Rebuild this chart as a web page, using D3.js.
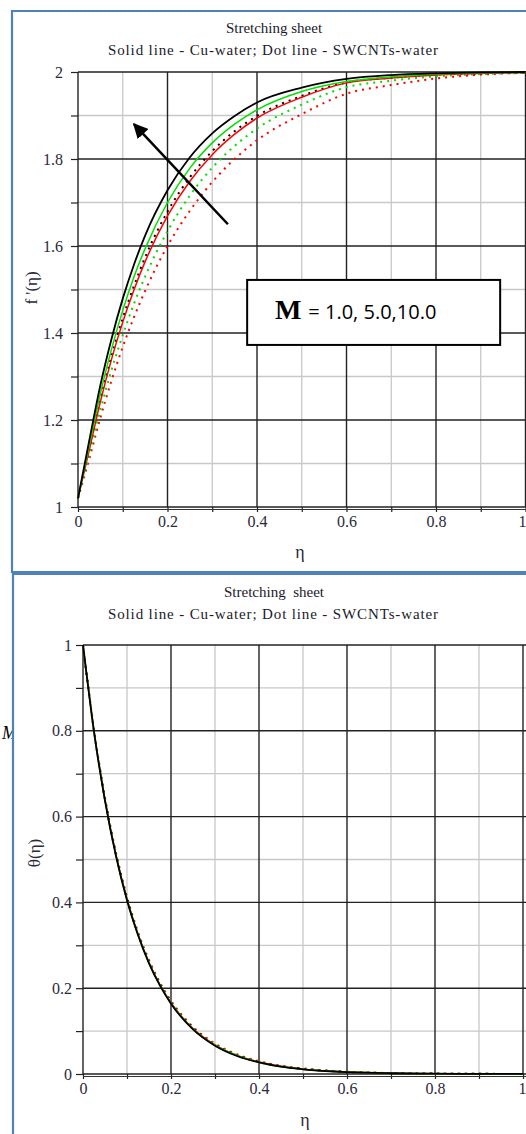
<!DOCTYPE html>
<html>
<head>
<meta charset="utf-8">
<script src="https://cdn.jsdelivr.net/npm/d3@7"></script>
<style>
  body { margin: 0; background: #fff; }
  svg { display: block; }
</style>
</head>
<body>
<script>
// top panel: velocity f'(eta)
const etaTop = [0, 0.025, 0.05, 0.075, 0.1, 0.125, 0.15, 0.2, 0.25, 0.3, 0.35, 0.4, 0.5, 0.6, 0.7, 0.8, 0.9, 1.0];
const fCuBlack  = [1.02, 1.152, 1.280, 1.387, 1.479, 1.557, 1.624, 1.728, 1.804, 1.859, 1.899, 1.930, 1.964, 1.984, 1.993, 1.997, 1.999, 2.0];
const fCuGreen  = [1.02, 1.141, 1.261, 1.363, 1.452, 1.529, 1.594, 1.700, 1.779, 1.837, 1.880, 1.913, 1.955, 1.978, 1.989, 1.995, 1.998, 1.999];
const fCuRed    = [1.02, 1.130, 1.242, 1.340, 1.425, 1.499, 1.564, 1.669, 1.749, 1.810, 1.857, 1.894, 1.942, 1.975, 1.986, 1.993, 1.997, 1.999];
const fSwBlack  = [1.02, 1.134, 1.248, 1.347, 1.434, 1.508, 1.574, 1.679, 1.758, 1.818, 1.864, 1.899, 1.945, 1.976, 1.987, 1.994, 1.997, 1.999];
const fSwGreen  = [1.02, 1.120, 1.223, 1.315, 1.395, 1.467, 1.530, 1.634, 1.716, 1.780, 1.830, 1.870, 1.925, 1.965, 1.980, 1.990, 1.995, 1.998];
const fSwRed    = [1.02, 1.110, 1.205, 1.291, 1.368, 1.436, 1.497, 1.600, 1.681, 1.747, 1.800, 1.843, 1.903, 1.950, 1.970, 1.985, 1.994, 1.998];

// bottom panel: temperature theta(eta)
const etaBottom = [0, 0.025, 0.05, 0.075, 0.1, 0.125, 0.15, 0.175, 0.2, 0.25, 0.3, 0.35, 0.4, 0.45, 0.5, 0.6, 0.7, 0.8, 0.9, 1.0];
const tCuBlack = [1, 0.798, 0.637, 0.508, 0.405, 0.324, 0.258, 0.206, 0.164, 0.104, 0.066, 0.042, 0.027, 0.017, 0.011, 0.0045, 0.0018, 0.0008, 0.0003, 0.0001];
const tCuGreen = [1, 0.799, 0.638, 0.509, 0.406, 0.325, 0.259, 0.207, 0.165, 0.105, 0.067, 0.043, 0.027, 0.017, 0.011, 0.0046, 0.0019, 0.0008, 0.0003, 0.0001];
const tCuRed   = [1, 0.800, 0.639, 0.510, 0.408, 0.326, 0.260, 0.208, 0.166, 0.106, 0.068, 0.043, 0.028, 0.018, 0.011, 0.0047, 0.0019, 0.0008, 0.0003, 0.0001];
const tSwBlack = [1, 0.800, 0.640, 0.511, 0.409, 0.327, 0.261, 0.209, 0.167, 0.107, 0.068, 0.044, 0.028, 0.018, 0.012, 0.0048, 0.0020, 0.0009, 0.0004, 0.0001];
const tSwGreen = [1, 0.801, 0.641, 0.512, 0.410, 0.328, 0.262, 0.210, 0.168, 0.108, 0.069, 0.044, 0.029, 0.018, 0.012, 0.0049, 0.0020, 0.0009, 0.0004, 0.0002];
const tSwRed   = [1, 0.803, 0.644, 0.516, 0.413, 0.331, 0.266, 0.213, 0.171, 0.110, 0.071, 0.046, 0.030, 0.019, 0.013, 0.0052, 0.0022, 0.0010, 0.0004, 0.0002];

const xTicks = [0, 0.2, 0.4, 0.6, 0.8, 1];
const yTicksTop = [1, 1.2, 1.4, 1.6, 1.8, 2];
const yTicksBottom = [0, 0.2, 0.4, 0.6, 0.8, 1];
const titleLine1 = 'Stretching sheet';
const titleLine2 = 'Solid line - Cu-water; Dot line - SWCNTs-water';

const width = 526, height = 1134;
const serif = 'Liberation Serif, Times New Roman, serif';
const tickColor = '#2a2a3a';

const svg = d3.select('body').append('svg')
  .attr('width', width)
  .attr('height', height);

const defs = svg.append('defs');
defs.append('marker')
  .attr('id', 'head')
  .attr('viewBox', '0 0 10 10')
  .attr('refX', 9).attr('refY', 5)
  .attr('markerWidth', 6).attr('markerHeight', 6)
  .attr('markerUnits', 'strokeWidth')
  .attr('orient', 'auto')
  .append('path')
  .attr('d', 'M0,0 L10,5 L0,10 Z')
  .attr('fill', '#000');
defs.append('clipPath').attr('id', 'leftcut')
  .append('rect').attr('x', 0).attr('y', 700).attr('width', 12).attr('height', 60);

function fmt(v) { return v === 0 || v === 1 || v === 2 ? String(v) : d3.format('.1f')(v); }

function drawPanel(cfg) {
  const x = d3.scaleLinear().domain([0, 1]).range([cfg.left, cfg.right]);
  const y = d3.scaleLinear().domain(cfg.yDomain).range([cfg.bottom, cfg.top]);
  const g = svg.append('g');

  const minorX = d3.range(1, 10, 2).map(d => d / 10);
  const [y0, y1] = cfg.yDomain;
  const minorY = d3.range(1, 10, 2).map(d => y0 + (y1 - y0) * d / 10);

  // minor grid
  g.append('g').selectAll('line').data(minorX).join('line')
    .attr('x1', d => x(d)).attr('x2', d => x(d))
    .attr('y1', cfg.top).attr('y2', cfg.bottom)
    .attr('stroke', '#c8c8c8').attr('stroke-width', 1.3);
  g.append('g').selectAll('line').data(minorY).join('line')
    .attr('x1', cfg.left).attr('x2', cfg.right + 4)
    .attr('y1', d => y(d)).attr('y2', d => y(d))
    .attr('stroke', '#c8c8c8').attr('stroke-width', 1.3);

  // major grid
  g.append('g').selectAll('line').data(xTicks.slice(1)).join('line')
    .attr('x1', d => x(d)).attr('x2', d => x(d))
    .attr('y1', cfg.top).attr('y2', cfg.bottom)
    .attr('stroke', '#222').attr('stroke-width', 1.4);
  g.append('g').selectAll('line').data(cfg.yTicks.slice(1)).join('line')
    .attr('x1', cfg.left).attr('x2', cfg.right + 4)
    .attr('y1', d => y(d)).attr('y2', d => y(d))
    .attr('stroke', '#222').attr('stroke-width', 1.4);

  // axes
  const xAxis = d3.axisBottom(x).tickValues(d3.range(0, 11).map(d => d / 10))
    .tickSize(5).tickPadding(4)
    .tickFormat(d => xTicks.some(t => Math.abs(t - d) < 1e-9) ? fmt(d) : '');
  const xa = g.append('g').attr('transform', `translate(0,${cfg.bottom})`).call(xAxis);
  xa.select('.domain').attr('stroke', '#222').attr('stroke-width', 1.4).attr('d', `M${cfg.left},0H${cfg.right + 4}`);
  xa.selectAll('.tick line').attr('stroke', '#222').attr('stroke-width', 1.2);
  xa.selectAll('.tick text').attr('font-family', serif).attr('font-size', 16)
    .attr('fill', tickColor)
    .attr('text-anchor', d => d === 1 ? 'end' : 'middle')
    .attr('dx', d => d === 1 ? (width - x(1)) : 0);
  g.append('line')
    .attr('x1', cfg.left).attr('x2', cfg.right + 4)
    .attr('y1', cfg.bottom + 2.5).attr('y2', cfg.bottom + 2.5)
    .attr('stroke', '#333').attr('stroke-width', 1);

  const yAxis = d3.axisLeft(y).tickValues(d3.range(0, 11).map(d => y0 + (y1 - y0) * d / 10))
    .tickSize(7).tickPadding(cfg.yPad)
    .tickFormat(d => cfg.yTicks.some(t => Math.abs(t - d) < 1e-9) ? fmt(d) : '');
  const ya = g.append('g').attr('transform', `translate(${cfg.left},0)`).call(yAxis);
  ya.select('.domain').attr('stroke', '#222').attr('stroke-width', 1.4).attr('d', `M0,${cfg.bottom}V${cfg.top}`);
  ya.selectAll('.tick line').attr('stroke', '#222').attr('stroke-width', 1.2);
  ya.selectAll('.tick text').attr('font-family', serif).attr('font-size', 16).attr('fill', tickColor);

  // curves
  const line = d3.line()
    .x(d => x(d[0])).y(d => y(d[1]))
    .curve(d3.curveMonotoneX);

  const dotted = cfg.series.filter(s => s.dot);
  const solid = cfg.series.filter(s => !s.dot);
  g.append('g').selectAll('path').data(dotted).join('path')
    .attr('d', s => line(cfg.eta.map((e, i) => [e, s.values[i]])))
    .attr('fill', 'none').attr('stroke', s => s.color)
    .attr('stroke-width', 2).attr('stroke-dasharray', '2,5');
  g.append('g').selectAll('path').data(solid).join('path')
    .attr('d', s => line(cfg.eta.map((e, i) => [e, s.values[i]])))
    .attr('fill', 'none').attr('stroke', s => s.color)
    .attr('stroke-width', s => s.color === '#000' ? 1.8 : 1.5);

  // titles
  g.append('text').attr('x', 274).attr('y', cfg.titleY)
    .attr('text-anchor', 'middle').attr('font-family', serif).attr('font-size', 15)
    .attr('fill', '#1a1a2a').style('white-space', 'pre').text(cfg.title1);
  g.append('text').attr('x', 273).attr('y', cfg.titleY + 22)
    .attr('text-anchor', 'middle').attr('font-family', serif).attr('font-size', 15)
    .attr('fill', '#1a1a2a').attr('textLength', 330).attr('lengthAdjust', 'spacing')
    .text(titleLine2);

  g.append('text').attr('x', cfg.etaX).attr('y', cfg.etaY)
    .attr('text-anchor', 'middle').attr('font-family', serif).attr('font-size', 18)
    .attr('fill', tickColor).text('η');

  g.append('text')
    .attr('transform', `translate(${cfg.ylabX},${cfg.ylabY}) rotate(-90)`)
    .attr('text-anchor', 'middle').attr('font-family', serif).attr('font-size', 17)
    .attr('fill', tickColor).text(cfg.ylab);

  return { x, y, g };
}

const topPanel = drawPanel({
  left: 78, right: 525.5, top: 72, bottom: 507,
  yDomain: [1, 2], yTicks: yTicksTop, yPad: 8,
  eta: etaTop,
  series: [
    { values: fSwRed, color: '#ff0000', dot: true },
    { values: fSwGreen, color: '#00e000', dot: true },
    { values: fSwBlack, color: '#000', dot: true },
    { values: fCuRed, color: '#ff0000' },
    { values: fCuGreen, color: '#00e000' },
    { values: fCuBlack, color: '#000' }
  ],
  titleY: 33, title1: titleLine1,
  etaX: 300, etaY: 558, ylabX: 37, ylabY: 288, ylab: "f '(η)"
});

const bottomPanel = drawPanel({
  left: 83, right: 523, top: 645, bottom: 1074,
  yDomain: [0, 1], yTicks: yTicksBottom, yPad: 4,
  eta: etaBottom,
  series: [
    { values: tSwRed, color: '#ff0000', dot: true },
    { values: tSwGreen, color: '#00e000', dot: true },
    { values: tSwBlack, color: '#000', dot: true },
    { values: tCuRed, color: '#ff0000' },
    { values: tCuGreen, color: '#00e000' },
    { values: tCuBlack, color: '#000' }
  ],
  titleY: 597, title1: 'Stretching  sheet',
  etaX: 305, etaY: 1126, ylabX: 40, ylabY: 853, ylab: 'θ(η)'
});

// arrow showing the increase of M (data units of the top panel)
topPanel.g.append('line')
  .attr('x1', topPanel.x(0.335)).attr('y1', topPanel.y(1.65))
  .attr('x2', topPanel.x(0.125)).attr('y2', topPanel.y(1.88))
  .attr('stroke', '#000').attr('stroke-width', 2.5)
  .attr('marker-end', 'url(#head)');

// legend box
const box = topPanel.g.append('g');
box.append('rect')
  .attr('x', topPanel.x(0.378)).attr('y', topPanel.y(1.522))
  .attr('width', 253).attr('height', 65)
  .attr('fill', '#fff').attr('stroke', '#000').attr('stroke-width', 2);
const lbl = box.append('text')
  .attr('x', topPanel.x(0.44)).attr('y', topPanel.y(1.432));
lbl.append('tspan').attr('font-family', serif).attr('font-size', 28)
  .attr('font-weight', 'bold').text('M');
lbl.append('tspan').attr('font-family', 'Open Sans, Liberation Sans, sans-serif')
  .attr('font-size', 20).attr('dx', 7).text('= 1.0, 5.0,10.0');

// stray fragment at the left edge of the lower panel
svg.append('text').attr('x', 2).attr('y', 739)
  .attr('clip-path', 'url(#leftcut)')
  .attr('font-family', serif).attr('font-size', 18).attr('font-style', 'italic')
  .text('M');

// blue frames around the two panels
svg.append('path')
  .attr('d', `M${width + 5},11 H12 V572 H${width + 5}`)
  .attr('fill', 'none').attr('stroke', '#4f81bd').attr('stroke-width', 2.2);
svg.append('path')
  .attr('d', `M${width + 5},574 H13 V${height + 5}`)
  .attr('fill', 'none').attr('stroke', '#4f81bd').attr('stroke-width', 2.2);
</script>
</body>
</html>
